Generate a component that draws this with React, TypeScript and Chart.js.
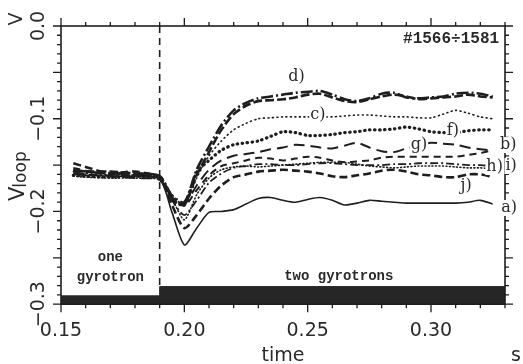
import { useEffect, useRef } from "react";
import { Chart, registerables } from "chart.js";

Chart.register(...registerables);

// ---- data ----
const time = [0.155, 0.16, 0.17, 0.18, 0.19, 0.195, 0.2, 0.205, 0.21, 0.215, 0.22, 0.225, 0.23, 0.235, 0.24, 0.245, 0.25, 0.255, 0.26, 0.265, 0.27, 0.275, 0.28, 0.285, 0.29, 0.295, 0.3, 0.305, 0.31, 0.315, 0.32, 0.325];

const seriesA = [-0.160, -0.161, -0.162, -0.162, -0.165, -0.201, -0.236, -0.218, -0.201, -0.200, -0.198, -0.192, -0.186, -0.185, -0.188, -0.190, -0.187, -0.185, -0.188, -0.193, -0.191, -0.188, -0.189, -0.190, -0.191, -0.191, -0.191, -0.191, -0.191, -0.190, -0.188, -0.192];
const seriesB = [-0.153, -0.156, -0.160, -0.161, -0.163, -0.185, -0.194, -0.177, -0.161, -0.151, -0.148, -0.145, -0.142, -0.143, -0.145, -0.143, -0.141, -0.142, -0.145, -0.147, -0.146, -0.145, -0.142, -0.141, -0.141, -0.141, -0.141, -0.141, -0.141, -0.139, -0.137, -0.134];
const seriesC = [-0.157, -0.159, -0.160, -0.161, -0.164, -0.182, -0.193, -0.164, -0.140, -0.124, -0.112, -0.105, -0.100, -0.099, -0.098, -0.098, -0.098, -0.098, -0.098, -0.097, -0.096, -0.096, -0.097, -0.098, -0.098, -0.099, -0.099, -0.095, -0.091, -0.094, -0.098, -0.100];
const seriesD = [-0.155, -0.157, -0.159, -0.159, -0.162, -0.183, -0.190, -0.155, -0.130, -0.107, -0.091, -0.083, -0.078, -0.076, -0.074, -0.072, -0.071, -0.070, -0.074, -0.079, -0.081, -0.078, -0.073, -0.072, -0.077, -0.078, -0.077, -0.076, -0.073, -0.072, -0.073, -0.076];
const seriesE = [-0.156, -0.157, -0.157, -0.159, -0.162, -0.185, -0.192, -0.161, -0.136, -0.112, -0.095, -0.086, -0.081, -0.080, -0.079, -0.077, -0.074, -0.073, -0.077, -0.081, -0.082, -0.079, -0.076, -0.074, -0.076, -0.079, -0.078, -0.077, -0.076, -0.074, -0.076, -0.077];
const seriesF = [-0.161, -0.162, -0.163, -0.162, -0.165, -0.187, -0.193, -0.158, -0.145, -0.134, -0.128, -0.126, -0.124, -0.119, -0.114, -0.115, -0.118, -0.118, -0.117, -0.115, -0.114, -0.112, -0.112, -0.111, -0.109, -0.111, -0.114, -0.115, -0.115, -0.113, -0.112, -0.112];
const seriesG = [-0.159, -0.160, -0.162, -0.164, -0.166, -0.186, -0.192, -0.172, -0.155, -0.145, -0.140, -0.138, -0.136, -0.133, -0.131, -0.128, -0.129, -0.131, -0.132, -0.129, -0.126, -0.131, -0.135, -0.136, -0.132, -0.129, -0.126, -0.127, -0.128, -0.131, -0.133, -0.134];
const seriesH = [-0.157, -0.160, -0.161, -0.161, -0.163, -0.188, -0.204, -0.188, -0.169, -0.159, -0.153, -0.151, -0.149, -0.149, -0.150, -0.150, -0.149, -0.148, -0.148, -0.149, -0.150, -0.150, -0.150, -0.149, -0.149, -0.148, -0.148, -0.148, -0.149, -0.150, -0.150, -0.151];
const seriesI = [-0.162, -0.163, -0.164, -0.164, -0.166, -0.186, -0.209, -0.182, -0.164, -0.155, -0.152, -0.151, -0.152, -0.151, -0.150, -0.149, -0.148, -0.147, -0.147, -0.147, -0.149, -0.151, -0.152, -0.153, -0.152, -0.151, -0.151, -0.151, -0.152, -0.153, -0.153, -0.154];
const seriesJ = [-0.148, -0.152, -0.159, -0.157, -0.164, -0.193, -0.218, -0.204, -0.186, -0.172, -0.163, -0.160, -0.157, -0.156, -0.155, -0.156, -0.157, -0.159, -0.162, -0.163, -0.161, -0.159, -0.156, -0.155, -0.157, -0.160, -0.161, -0.163, -0.163, -0.160, -0.160, -0.163];

// gyrotron power bar (one gyrotron, then two gyrotrons)
const powerTime = [0.15, 0.19, 0.33];
const powerLevel = [-0.291, -0.281, -0.281];

// time when second gyrotron switched on
const switchTime = [0.19, 0.19];
const switchLevel = [0, -0.281];

// curve labels
const curveNames = ["d)", "c)", "f)", "g)", "b)", "h)", "i)", "j)", "a)"];
const curveLabelX = [0.2455, 0.2541, 0.3089, 0.2951, 0.3313, 0.3258, 0.3325, 0.3142, 0.3317];
const curveLabelY = [-0.055, -0.096, -0.1133, -0.1284, -0.1284, -0.1521, -0.151, -0.1726, -0.1963];

// axes
const xMin = 0.15, xMax = 0.33, yMin = -0.3, yMax = 0;
const yTickValues = [0, -0.1, -0.2, -0.3];
const yTickLabels = ["0.0", "\u22120.1", "\u22120.2", "\u22120.3"];

const INK = "#1e1e1e";

const toXY = (xs: number[], ys: number[]) => xs.map((x, i) => ({ x, y: ys[i] }));

const seriesDefs = [
  { v: seriesA, dash: [] as number[], w: 1.6, cap: "butt" },
  { v: seriesB, dash: [7, 5], w: 2, cap: "butt" },
  { v: seriesC, dash: [1, 3.5], w: 1.6, cap: "round" },
  { v: seriesD, dash: [12, 3, 2, 3], w: 2.6, cap: "butt" },
  { v: seriesE, dash: [9, 3], w: 2.6, cap: "butt" },
  { v: seriesF, dash: [0.5, 4.5], w: 3.2, cap: "round" },
  { v: seriesG, dash: [11, 6], w: 2, cap: "butt" },
  { v: seriesH, dash: [8, 3, 2, 3], w: 1.8, cap: "butt" },
  { v: seriesI, dash: [1, 2.5], w: 1.6, cap: "round" },
  { v: seriesJ, dash: [8, 4], w: 2.6, cap: "butt" },
];

const framePlugin = {
  id: "frame",
  beforeDraw(chart: any) {
    const ctx = chart.ctx;
    ctx.save();
    ctx.fillStyle = "#ffffff";
    ctx.fillRect(0, 0, chart.width, chart.height);
    ctx.restore();
  },
  afterDraw(chart: any) {
    const { ctx, chartArea: ca, scales } = chart;
    const xs = scales.x;
    const ys = scales.y;
    ctx.save();
    // frame
    ctx.strokeStyle = INK;
    ctx.lineWidth = 1.6;
    ctx.strokeRect(ca.left, ca.top, ca.right - ca.left, ca.bottom - ca.top);
    // ticks
    ctx.lineWidth = 1.3;
    ctx.beginPath();
    xs.ticks.forEach((t: any) => {
      const px = xs.getPixelForValue(t.value);
      const major = Math.round(t.value * 100) % 5 === 0;
      const len = major ? 8 : 4;
      ctx.moveTo(px, ca.bottom);
      ctx.lineTo(px, ca.bottom + len);
      ctx.moveTo(px, ca.top);
      ctx.lineTo(px, ca.top - len);
    });
    ys.ticks.forEach((t: any) => {
      const py = ys.getPixelForValue(t.value);
      const major = Math.abs(Math.round(t.value * 100)) % 5 === 0;
      const len = major ? 8 : 4;
      ctx.moveTo(ca.left, py);
      ctx.lineTo(ca.left - len, py);
      ctx.moveTo(ca.right, py);
      ctx.lineTo(ca.right + len, py);
    });
    ctx.stroke();

    ctx.fillStyle = "#2a2a2a";
    // rotated y tick labels
    ctx.font = "19px 'DejaVu Sans'";
    ctx.textAlign = "center";
    ctx.textBaseline = "alphabetic";
    yTickValues.forEach((v, i) => {
      const py = ys.getPixelForValue(v);
      ctx.save();
      ctx.translate(44, py);
      ctx.rotate(-Math.PI / 2);
      ctx.fillText(yTickLabels[i], 0, 0);
      ctx.restore();
    });

    // y axis title V_loop and unit V (rotated)
    ctx.save();
    ctx.translate(24, 201);
    ctx.rotate(-Math.PI / 2);
    ctx.textAlign = "left";
    ctx.font = "21px 'DejaVu Sans'";
    ctx.fillText("V", 0, 0);
    const vw = ctx.measureText("V").width;
    ctx.font = "17px 'DejaVu Sans'";
    ctx.fillText("loop", vw - 1, 2);
    ctx.restore();

    ctx.save();
    ctx.translate(22, ys.getPixelForValue(0) - 7);
    ctx.rotate(-Math.PI / 2);
    ctx.textAlign = "center";
    ctx.font = "19px 'DejaVu Sans'";
    ctx.fillText("V", 0, 0);
    ctx.restore();

    // x title and unit
    ctx.font = "19px 'DejaVu Sans'";
    ctx.textAlign = "center";
    ctx.textBaseline = "alphabetic";
    ctx.fillText("time", (ca.left + ca.right) / 2, 361);
    ctx.fillText("s", 516, 361);

    // curve labels with white backing
    ctx.font = "16px 'DejaVu Serif'";
    ctx.textBaseline = "middle";
    curveNames.forEach((name, i) => {
      const px = xs.getPixelForValue(curveLabelX[i]);
      const py = ys.getPixelForValue(curveLabelY[i]);
      const w = ctx.measureText(name).width;
      ctx.fillStyle = "#ffffff";
      ctx.fillRect(px - w / 2 - 1, py - 8, w + 2, 16);
      ctx.fillStyle = "#2a2a2a";
      ctx.fillText(name, px, py);
    });

    // annotations
    ctx.font = "bold 16px 'Liberation Mono'";
    ctx.textAlign = "right";
    ctx.fillText("#1566\u00f71581", xs.getPixelForValue(0.3276), ys.getPixelForValue(-0.014));
    ctx.font = "bold 14px 'Liberation Mono'";
    ctx.textAlign = "center";
    ctx.fillText("one", xs.getPixelForValue(0.17), ys.getPixelForValue(-0.25));
    ctx.fillText("gyrotron", xs.getPixelForValue(0.17), ys.getPixelForValue(-0.271));
    ctx.fillText("two gyrotrons", xs.getPixelForValue(0.2626), ys.getPixelForValue(-0.27));
    ctx.restore();
  },
};

export default function App() {
  const ref = useRef<HTMLCanvasElement | null>(null);

  useEffect(() => {
    const canvas = ref.current;
    if (!canvas) return;

    const datasets: any[] = seriesDefs.map((s) => ({
      data: toXY(time, s.v),
      borderColor: INK,
      borderWidth: s.w,
      borderDash: s.dash,
      borderCapStyle: s.cap,
      pointRadius: 0,
      tension: 0.25,
      fill: false,
    }));
    datasets.push({
      data: toXY(switchTime, switchLevel),
      borderColor: INK,
      borderWidth: 1.6,
      borderDash: [7, 5],
      pointRadius: 0,
      fill: false,
    });
    datasets.push({
      data: toXY(powerTime, powerLevel),
      borderColor: "#262626",
      backgroundColor: "#262626",
      borderWidth: 1,
      stepped: true,
      pointRadius: 0,
      fill: "start",
    });

    const chart = new Chart(canvas, {
      type: "line",
      data: { datasets },
      options: {
        animation: false,
        responsive: false,
        devicePixelRatio: 1,
        layout: { padding: { left: 61, right: 18, top: 26, bottom: 7 } },
        plugins: { legend: { display: false }, tooltip: { enabled: false } },
        scales: {
          x: {
            type: "linear",
            min: xMin,
            max: xMax,
            grid: { display: false, drawTicks: false },
            border: { display: false },
            ticks: {
              stepSize: 0.01,
              autoSkip: false,
              maxRotation: 0,
              minRotation: 0,
              padding: 15,
              color: "#2a2a2a",
              font: { family: "'DejaVu Sans'", size: 19 },
              callback: (value: any) => {
                const v = Math.round(Number(value) * 100);
                return v % 5 === 0 ? (v / 100).toFixed(2) : "";
              },
            },
          },
          y: {
            type: "linear",
            min: yMin,
            max: yMax,
            grid: { display: false, drawTicks: false },
            border: { display: false },
            ticks: { display: false, stepSize: 0.01 },
          },
        },
      },
      plugins: [framePlugin],
    } as any);

    return () => chart.destroy();
  }, []);

  return (
    <div style={{ position: "fixed", left: 0, top: 0, width: 523, height: 364, background: "#fff" }}>
      <canvas ref={ref} width={523} height={364} style={{ display: "block", width: 523, height: 364 }} />
    </div>
  );
}
